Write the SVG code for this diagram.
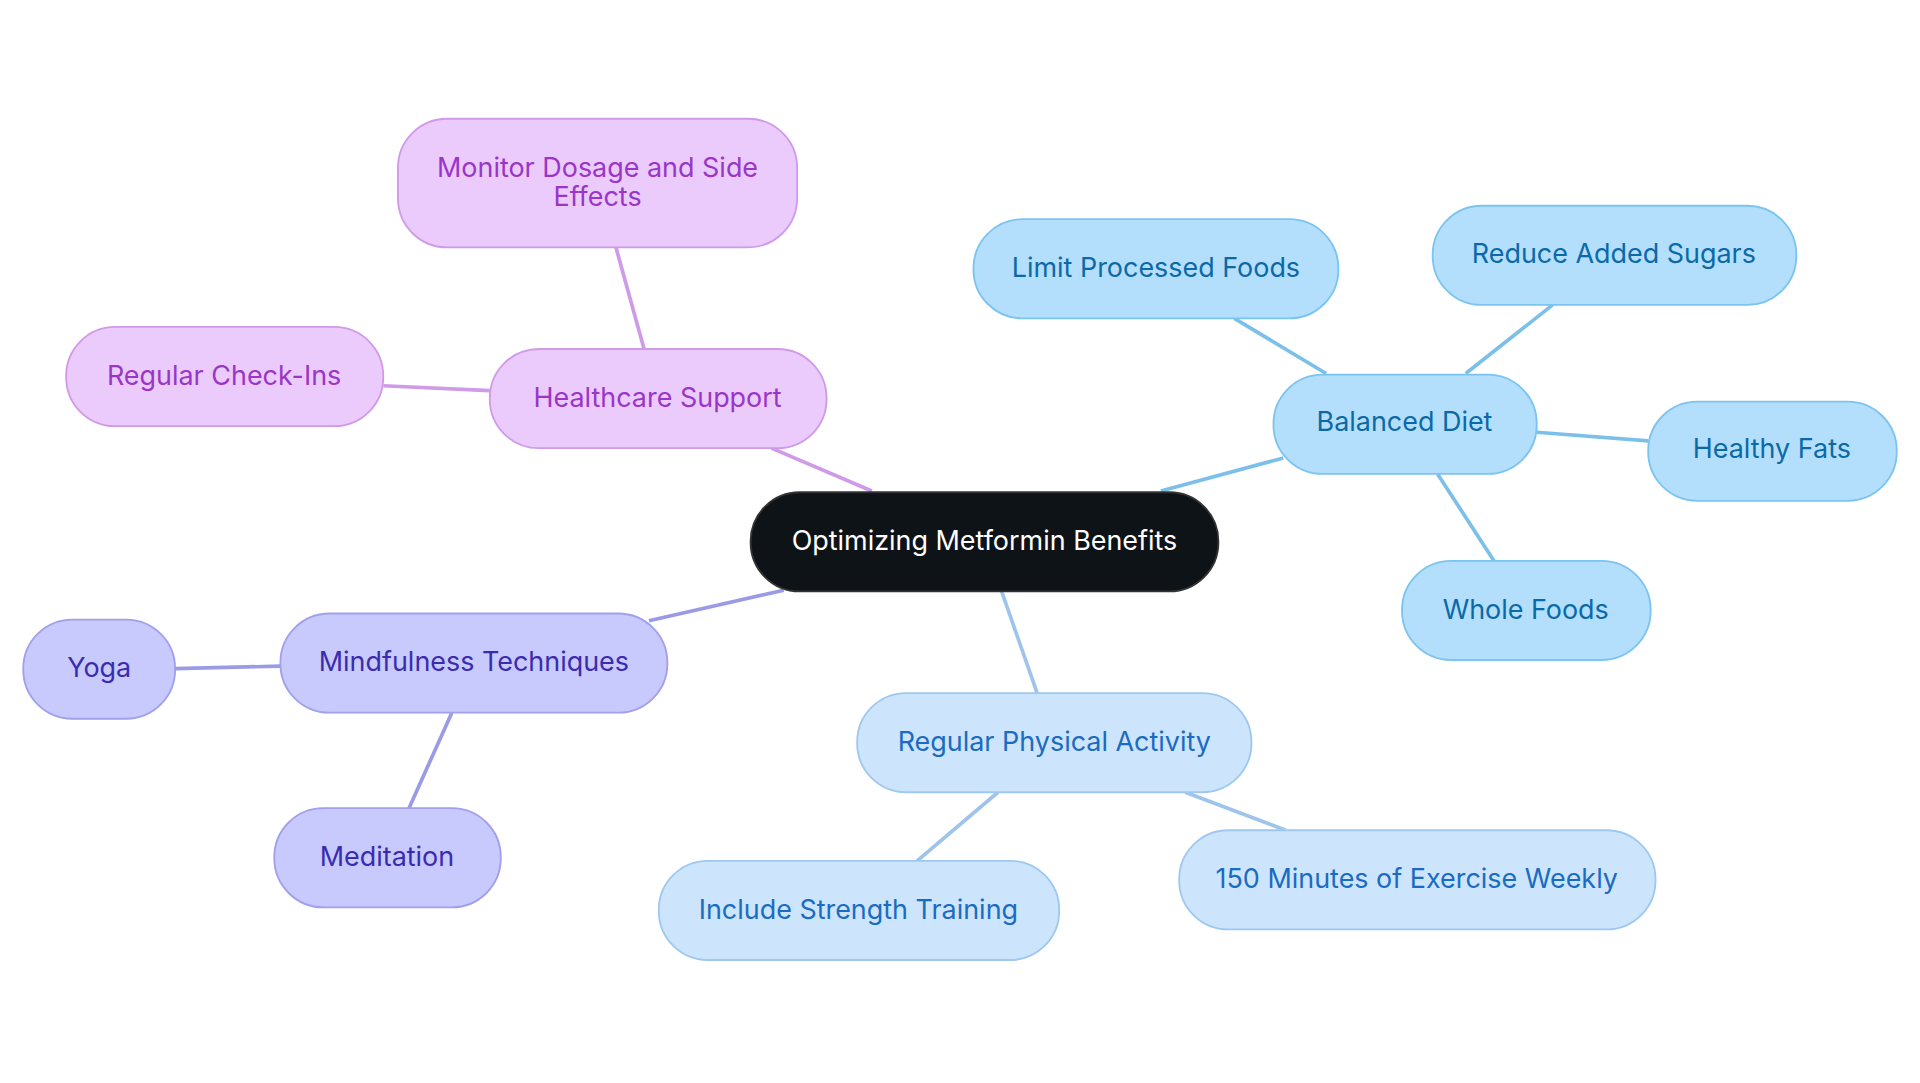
<svg xmlns="http://www.w3.org/2000/svg" width="1920" height="1083" viewBox="0 0 1920 1083">
<style>
text{font-family:Inter,"Noto Sans","Liberation Sans",sans-serif;font-size:22px;text-anchor:middle;dominant-baseline:central}
.d rect{fill:#b3dffc;stroke:#7cc4f0;stroke-width:1.5}.d text{fill:#0b69a8}
.p rect{fill:#cde5fc;stroke:#9ec8f0;stroke-width:1.5}.p text{fill:#1a6bc2}
.m rect{fill:#c8c9fc;stroke:#a0a0ec;stroke-width:1.5}.m text{fill:#3a2cb0}
.h rect{fill:#ebcbfc;stroke:#d09ae8;stroke-width:1.5}.h text{fill:#9a35c8}
.c line{stroke-width:3}
</style>
<rect width="1920" height="1083" fill="#fff"/>
<g transform="scale(1.2245)">
<g id="connectors" class="c">
<line x1="948" y1="401" x2="1048" y2="374" stroke="#7cc0ea"/>
<line x1="1083" y1="305" x2="1008" y2="260" stroke="#7cc0ea"/>
<line x1="1197" y1="305" x2="1268" y2="249" stroke="#7cc0ea"/>
<line x1="1255" y1="353" x2="1346" y2="360" stroke="#7cc0ea"/>
<line x1="1174" y1="387" x2="1220" y2="458" stroke="#7cc0ea"/>
<line x1="818" y1="483" x2="847" y2="566" stroke="#9ec4ec"/>
<line x1="815" y1="647" x2="749" y2="703" stroke="#9ec4ec"/>
<line x1="968" y1="647" x2="1050" y2="678" stroke="#9ec4ec"/>
<line x1="640" y1="482" x2="530" y2="507" stroke="#9a9ae6"/>
<line x1="229" y1="544" x2="143" y2="546" stroke="#9a9ae6"/>
<line x1="369" y1="582" x2="334" y2="660" stroke="#9a9ae6"/>
<line x1="712" y1="401" x2="630" y2="366" stroke="#cf9ae8"/>
<line x1="400" y1="319" x2="313" y2="315" stroke="#cf9ae8"/>
<line x1="526" y1="285" x2="503" y2="202" stroke="#cf9ae8"/>
</g>
<g id="center"><rect x="613" y="402" width="382" height="81" rx="40" fill="#0e1318" stroke="#333" stroke-width="1.5"/><text x="804" y="441" fill="#fff">Optimizing Metformin Benefits</text></g>
<g id="diet" class="d"><rect x="1040" y="306" width="215" height="81" rx="40"/><text x="1147" y="344">Balanced Diet</text></g>
<g id="limit" class="d"><rect x="795" y="179" width="298" height="81" rx="40"/><text x="944" y="218">Limit Processed Foods</text></g>
<g id="sugars" class="d"><rect x="1170" y="168" width="297" height="81" rx="40"/><text x="1318" y="207">Reduce Added Sugars</text></g>
<g id="fats" class="d"><rect x="1346" y="328" width="203" height="81" rx="40"/><text x="1447" y="366">Healthy Fats</text></g>
<g id="whole" class="d"><rect x="1145" y="458" width="203" height="81" rx="40"/><text x="1246" y="497">Whole Foods</text></g>
<g id="physical" class="p"><rect x="700" y="566" width="322" height="81" rx="40"/><text x="861" y="605">Regular Physical Activity</text></g>
<g id="strength" class="p"><rect x="538" y="703" width="327" height="81" rx="40"/><text x="701" y="742">Include Strength Training</text></g>
<g id="minutes" class="p"><rect x="963" y="678" width="389" height="81" rx="40"/><text x="1157" y="717">150 Minutes of Exercise Weekly</text></g>
<g id="mindfulness" class="m"><rect x="229" y="501" width="316" height="81" rx="40"/><text x="387" y="540">Mindfulness Techniques</text></g>
<g id="yoga" class="m"><rect x="19" y="506" width="124" height="81" rx="40"/><text x="81" y="545">Yoga</text></g>
<g id="meditation" class="m"><rect x="224" y="660" width="185" height="81" rx="40"/><text x="316" y="699">Meditation</text></g>
<g id="healthcare" class="h"><rect x="400" y="285" width="275" height="81" rx="40"/><text x="537" y="324">Healthcare Support</text></g>
<g id="checkins" class="h"><rect x="54" y="267" width="259" height="81" rx="40"/><text x="183" y="306">Regular Check-Ins</text></g>
<g id="monitor" class="h"><rect x="325" y="97" width="326" height="105" rx="40"/><text x="488" y="136">Monitor Dosage and Side</text><text x="488" y="160">Effects</text></g>
</g>
</svg>
